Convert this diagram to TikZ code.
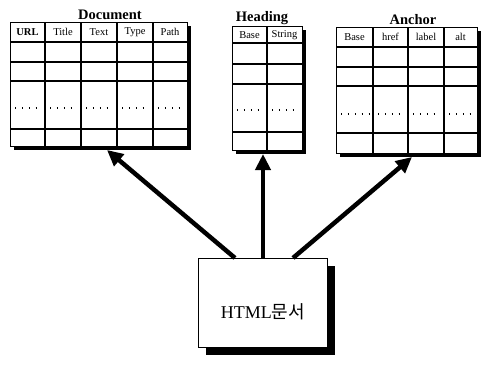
\documentclass[tikz,border=0pt]{standalone}
\usepackage{fontspec}
\setmainfont{Liberation Serif}
\newfontfamily\kofont{Noto Sans CJK KR}
\usetikzlibrary{arrows.meta}
\begin{document}
\begin{tikzpicture}[x=1pt,y=-1pt,
  tbl/.style={draw=black,line width=1.3pt,fill=white,inner sep=0pt,anchor=north west},
  shadowbox/.style={fill=black},
  grid/.style={line width=1.1pt},
  dots/.style={line width=1.3pt,dash pattern=on 1.4pt off 5.5pt},
  ttl/.style={font=\bfseries\fontsize{14.5}{15}\selectfont,inner sep=0pt},
  hdr/.style={font=\fontsize{10.5}{11}\selectfont,inner sep=0pt},
  bigarrow/.style={line width=4.5pt,-{Triangle[length=16pt,width=15pt]}}]
\useasboundingbox (0,0) rectangle (481,364);

% ---------- Document ----------
\fill[shadowbox] (14,26) rectangle (191,150);
\node[tbl,minimum width=177pt,minimum height=124pt] (doc) at (10,22) {};
\foreach \y in {42,62,81,129} \draw[grid] (10,\y) -- (187,\y);
\foreach \x in {45,81,117,153} \draw[grid] (\x,22) -- (\x,146);
\foreach \a/\b in {10/45,45/81,81/117,117/153,153/187} \draw[dots] (\a+5,108) -- (\b-4,108);
\node[ttl] (doct) at (110,15) {Document};
\node[hdr,font=\bfseries\fontsize{10.5}{11}\selectfont] at (27.5,32) {URL};
\node[hdr] at (63,32) {Title};
\node[hdr] at (99,32) {Text};
\node[hdr] at (135,32) {Type};
\node[hdr] at (170,32) {Path};

% ---------- Heading ----------
\fill[shadowbox] (236,30) rectangle (306,154);
\node[tbl,minimum width=70pt,minimum height=124pt] (head) at (232,26) {};
\foreach \y in {43,64,84,132} \draw[grid] (232,\y) -- (302,\y);
\draw[grid] (267,26) -- (267,150);
\foreach \a/\b in {232/267,267/302} \draw[dots] (\a+5,110) -- (\b-4,110);
\node[ttl] (headt) at (262,18) {Heading};
\node[hdr] at (249.5,35) {Base};
\node[hdr] at (284.5,35) {String};

% ---------- Anchor ----------
\fill[shadowbox] (340,31) rectangle (481,157);
\node[tbl,minimum width=141pt,minimum height=126pt] (anch) at (336,27) {};
\foreach \y in {47,67,86,133} \draw[grid] (336,\y) -- (477,\y);
\foreach \x in {373,408,444} \draw[grid] (\x,27) -- (\x,153);
\foreach \a/\b in {336/373,373/408,408/444,444/477} \draw[dots] (\a+5,114) -- (\b-4,114);
\node[ttl] (ancht) at (413,20) {Anchor};
\node[hdr] at (354.5,37) {Base};
\node[hdr] at (390.5,37) {href};
\node[hdr] at (426,37) {label};
\node[hdr] at (460.5,37) {alt};

% ---------- HTML box ----------
\fill[shadowbox] (206,266) rectangle (335,355);
\node[draw=black,line width=1.3pt,fill=white,minimum width=129pt,minimum height=89pt,anchor=north west,inner sep=0pt] (html) at (198,258) {};
\node[font=\fontsize{18}{20}\selectfont,inner sep=0pt] (htmlt) at (263,312) {HTML{\kofont 문서}};

% ---------- arrows ----------
\coordinate (s1) at (235,258);
\coordinate (s2) at (263,258);
\coordinate (s3) at (293,258);
\coordinate (t1) at (107,150);
\coordinate (t2) at (263,154);
\coordinate (t3) at (412,157);
\draw[bigarrow] (s1) -- (t1);
\draw[bigarrow] (s2) -- (t2);
\draw[bigarrow] (s3) -- (t3);
\end{tikzpicture}
\end{document}
